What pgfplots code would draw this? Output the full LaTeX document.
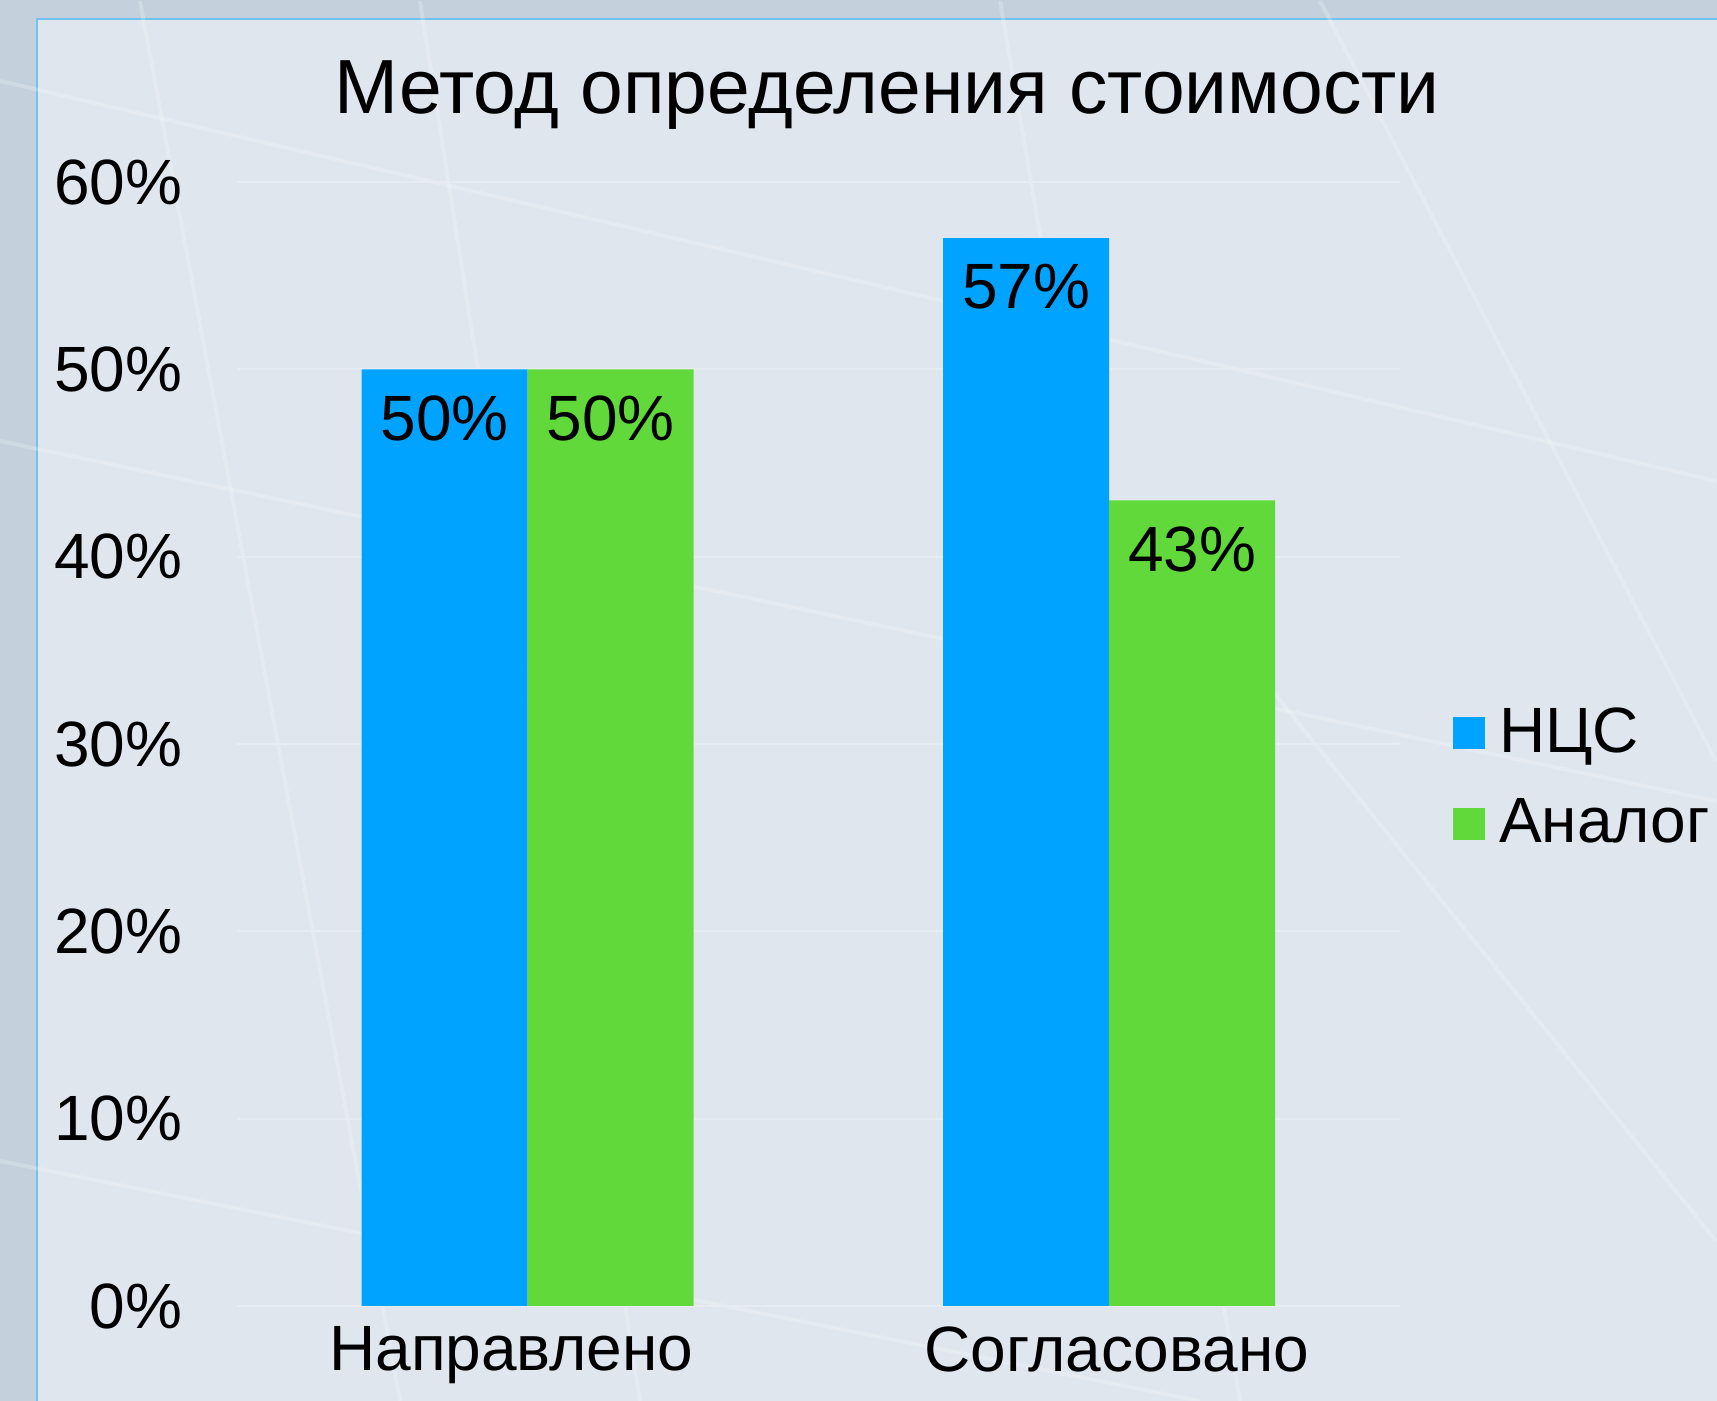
\documentclass[border=0pt]{standalone}
\usepackage{fontspec}
\setmainfont{Liberation Sans}
\usepackage{pgfplots}
\pgfplotsset{compat=1.18}
\definecolor{outerbg}{HTML}{C4D1DC}
\definecolor{innerbg}{HTML}{DFE6ED}
\definecolor{frameblue}{HTML}{6EC3F2}
\definecolor{ncs}{HTML}{00A3FF}
\definecolor{analog}{HTML}{62D93A}
\begin{document}
\begin{tikzpicture}
\useasboundingbox (0,0) rectangle (429.25pt,350.25pt);
\fill[outerbg] (0,0) rectangle (429.25pt,350.25pt);
\fill[innerbg] (9.25pt,-1pt) rectangle (430pt,345.5pt);
\draw[frameblue,line width=0.4pt] (9.25pt,-1pt) -- (9.25pt,345.5pt) -- (430pt,345.5pt);
\begin{scope}
\clip (0,0) rectangle (429.25pt,350.25pt);
\draw[white,opacity=0.2,line width=1pt] (0pt,240pt) -- (429pt,150pt);
\draw[white,opacity=0.2,line width=1pt] (35pt,350pt) -- (100pt,0pt);
\draw[white,opacity=0.2,line width=1pt] (105pt,350pt) -- (160pt,0pt);
\draw[white,opacity=0.2,line width=1pt] (250pt,350pt) -- (310pt,0pt);
\draw[white,opacity=0.2,line width=1pt] (0pt,60pt) -- (300pt,0pt);
\draw[white,opacity=0.2,line width=1pt] (330pt,350pt) -- (429pt,160pt);
\draw[white,opacity=0.2,line width=1pt] (0pt,330pt) -- (429pt,230pt);
\draw[white,opacity=0.2,line width=1pt] (300pt,200pt) -- (429pt,40pt);
\end{scope}
\node[anchor=base,font=\fontsize{19.2}{23}\selectfont] at (221.75pt,321.75pt) {Метод определения стоимости};
\begin{axis}[
  at={(59.25pt,23.75pt)}, anchor=south west,
  scale only axis, width=290.75pt, height=281pt,
  ymin=0, ymax=60, xmin=-0.5, xmax=1.5,
  axis line style={draw=none}, tick style={draw=none},
  ybar=0pt, bar width=41.5pt,
  xtick={0,1}, xticklabels={\hbox{Направлено\kern8.2pt},\hbox{\kern3.8pt Согласовано}},
  ytick={0,10,...,60},
  yticklabel={\pgfmathprintnumber{\tick}\%},
  /pgf/number format/assume math mode=true,
  ymajorgrids, grid style={color=white!25!innerbg, line width=0.5pt},
  tick label style={font=\fontsize{16}{19}\selectfont},
  y tick label style={xshift=-10.1pt},
  x tick label style={yshift=2.7pt},
  nodes near coords={\pgfmathprintnumber{\pgfplotspointmeta}\%},
  nodes near coords style={anchor=north, yshift=-3pt, font=\fontsize{16}{19}\selectfont, text=black},
  legend style={at={(1.0447,0.4695)}, anchor=west, draw=none, fill=none, inner sep=0pt, font=\fontsize{16}{19}\selectfont, row sep=6pt},
  legend cell align=left,
  legend image code/.code={\fill[#1] (0pt,-4pt) rectangle (8pt,4pt); \path (9.6pt,0pt);},
]
\addplot[fill=ncs, draw=none] coordinates {(0,50) (1,57)};
\addplot[fill=analog, draw=none] coordinates {(0,50) (1,43)};
\legend{НЦС, Аналог}
\end{axis}
\end{tikzpicture}
\end{document}
